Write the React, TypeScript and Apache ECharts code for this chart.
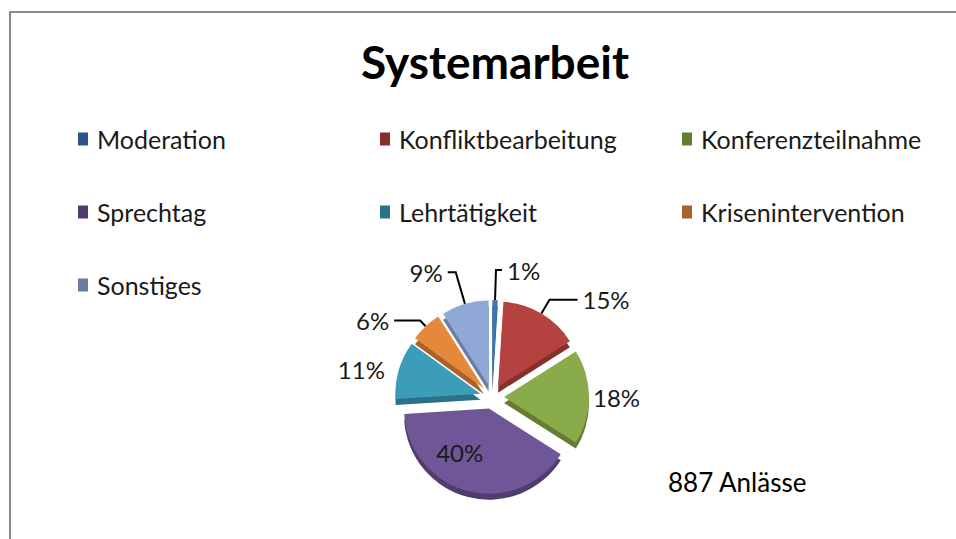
import React, { useEffect, useRef } from "react";
import * as echarts from "echarts";

const categories = [
  "Moderation",
  "Konfliktbearbeitung",
  "Konferenzteilnahme",
  "Sprechtag",
  "Lehrtätigkeit",
  "Krisenintervention",
  "Sonstiges",
];
const values = [1, 15, 18, 40, 11, 6, 9];
const topColors = ["#3f73b4", "#b4433f", "#8aab4a", "#6f5797", "#3c9db8", "#e5883b", "#8fa8d5"];
const sideColors = ["#2c5488", "#84302d", "#647d33", "#4f3d6e", "#2a7287", "#a9622a", "#6a7da0"];
const legendColumns = [
  ["Moderation", "Sprechtag", "Sonstiges"],
  ["Konfliktbearbeitung", "Lehrtätigkeit"],
  ["Konferenzteilnahme", "Krisenintervention"],
];
const title = "Systemarbeit";
const note = "887 Anlässe";

const FONT = "Lato, 'Open Sans', sans-serif";

export default function App() {
  const ref = useRef<HTMLDivElement>(null);
  useEffect(() => {
    if (!ref.current) return;
    const chart = echarts.init(ref.current, undefined, { renderer: "svg" });
    const labelCfg: Record<string, any> = {
      Moderation: { label: {}, line: { show: true, length: 30, length2: 6 } },
      Konfliktbearbeitung: { label: {}, line: { show: true, length: 16, length2: 28 } },
      Konferenzteilnahme: { label: { distanceToLabelLine: 0 }, line: { show: false, length: 2, length2: 2 } },
      Sprechtag: { label: { position: "inside", padding: [0, 36, 10, 0] }, line: { show: false } },
      Lehrtätigkeit: { label: { distanceToLabelLine: 0 }, line: { show: false, length: 2, length2: 12 } },
      Krisenintervention: { label: {}, line: { show: true, length: 8, length2: 26 } },
      Sonstiges: { label: {}, line: { show: true, length: 33, length2: 8 } },
    };
    const topData = categories.map((name, i) => ({
      name,
      value: values[i],
      selected: true,
      itemStyle: { color: topColors[i] },
      label: labelCfg[name].label,
      labelLine: labelCfg[name].line,
    }));
    const sideData = categories.map((name, i) => ({
      name,
      value: values[i],
      selected: true,
      itemStyle: { color: sideColors[i] },
    }));
    const legendX = [78, 380, 682];
    chart.setOption({
      animation: false,
      backgroundColor: "#ffffff",
      title: {
        text: title,
        left: 490,
        textAlign: "center",
        top: 33,
        textStyle: { fontFamily: FONT, fontWeight: "bold", fontSize: 46, color: "#000" },
      },
      color: topColors,
      legend: legendColumns.map((col, ci) => ({
        data: col,
        orient: "vertical",
        left: legendX[ci],
        top: 124,
        padding: 0,
        itemWidth: 10,
        itemHeight: 13,
        itemGap: 43,
        icon: "rect",
        selectedMode: false,
        textStyle: {
          fontFamily: FONT,
          fontSize: 25,
          color: "#1a1a1a",
          lineHeight: 30,
          padding: [0, 0, 0, 4],
        },
      })),
      graphic: [
        {
          type: "rect",
          shape: { x: 10, y: 12, width: 980, height: 560 },
          style: { fill: "none", stroke: "#8a8a8a", lineWidth: 2 },
          silent: true,
        },
        {
          type: "text",
          left: 668,
          top: 469,
          style: { text: note, fontFamily: FONT, fontSize: 26, fill: "#000" },
        },
      ],
      series: [
        {
          type: "pie",
          silent: true,
          z: 1,
          center: [492, 403],
          radius: 85,
          startAngle: 90,
          selectedMode: "multiple",
          selectedOffset: 12,
          label: { show: false },
          labelLine: { show: false },
          emphasis: { disabled: true },
          data: sideData,
        },
        {
          type: "pie",
          z: 2,
          center: [492, 397],
          radius: 85,
          startAngle: 90,
          selectedMode: "multiple",
          selectedOffset: 12,
          avoidLabelOverlap: false,
          emphasis: { disabled: true },
          label: {
            show: true,
            formatter: "{d}%",
            fontFamily: FONT,
            fontSize: 24,
            color: "#1a1a1a",
          },
          labelLine: {
            show: true,
            lineStyle: { color: "#000", width: 2 },
          },
          data: topData,
        },
      ],
    });
    return () => chart.dispose();
  }, []);
  return (
    <div
      ref={ref}
      style={{ position: "fixed", left: 0, top: 0, width: 956, height: 539 }}
    />
  );
}
